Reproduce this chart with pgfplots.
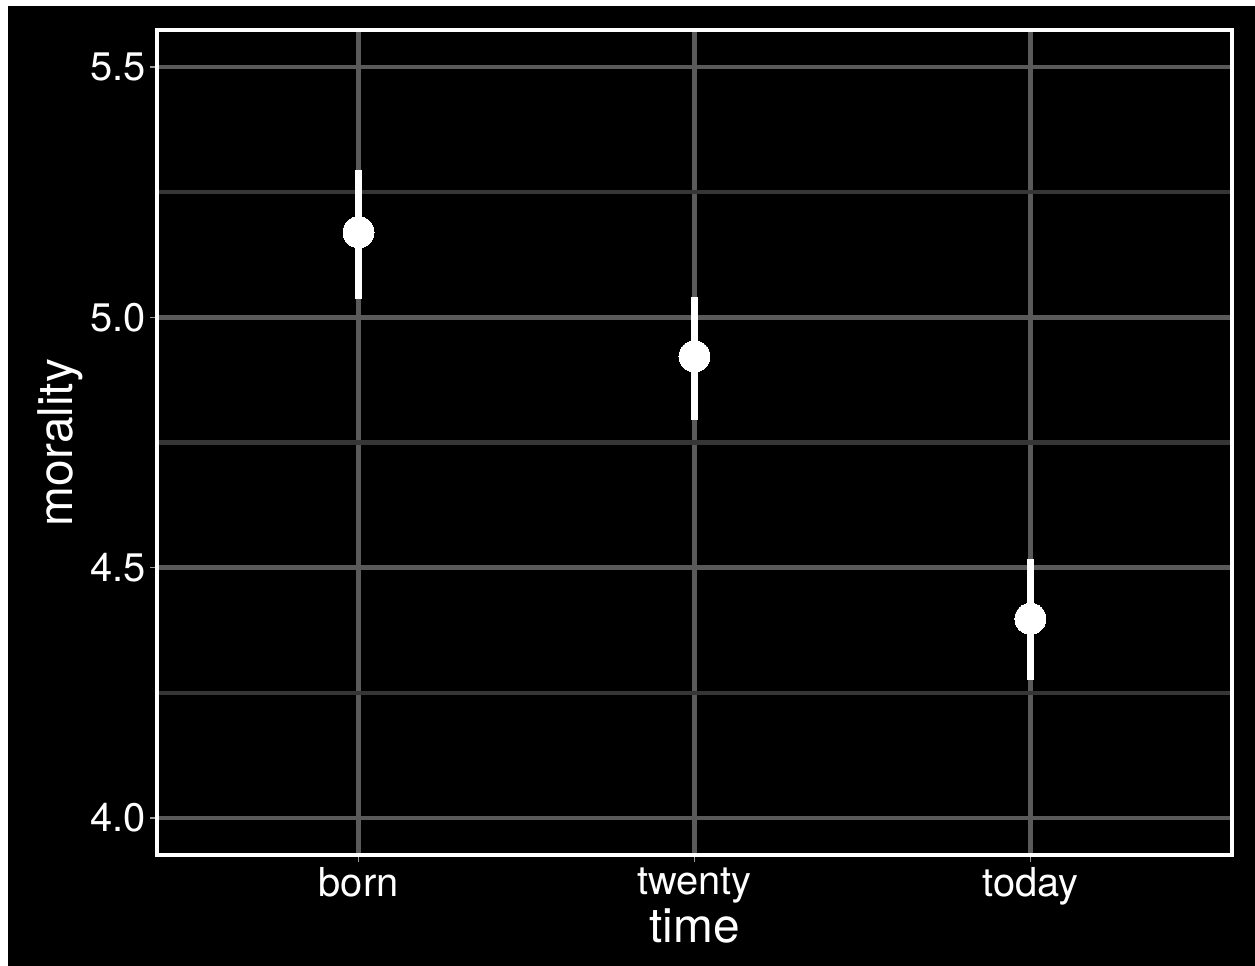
\documentclass[border=0pt]{standalone}
\usepackage{pgfplots}
\pgfplotsset{compat=1.18}
\usepackage{fontspec}
\setmainfont{TeX Gyre Heros}
\definecolor{gridmajor}{HTML}{5A5A5A}
\definecolor{gridminor}{HTML}{363636}
\begin{document}
\begin{tikzpicture}[x=1bp,y=1bp]
% page background with black panel
\useasboundingbox (0,0) rectangle (1255,966);
\fill[white] (0,0) rectangle (1255,966);
\fill[black] (8,0) rectangle (1255,960);
\begin{axis}[
  name=main,
  at={(157bp,111bp)}, anchor=south west,
  width=1075bp, height=825bp, scale only axis,
  xmin=-0.6, xmax=2.6, ymin=3.926, ymax=5.574,
  xtick={0,1,2}, xticklabels={born,twenty,today},
  ytick={4.0,4.5,5.0,5.5},
  minor ytick={4.25,4.75,5.25},
  /pgf/number format/fixed,
  /pgf/number format/fixed zerofill,
  /pgf/number format/precision=1,
  /pgf/number format/assume math mode=true,
  ticklabel style={font=\fontsize{40}{44}\selectfont, text=white},
  yticklabel style={xshift=-1bp},
  xticklabel style={yshift=-2bp},
  axis line style={white, line width=3bp},
  tick style={gridmajor!60!white, line width=1.4bp},
  major tick length=7bp, minor tick length=0pt,
  tick align=outside, xtick pos=bottom, ytick pos=left,
  grid=both,
  major grid style={gridmajor, line width=4.6bp},
  minor grid style={gridminor, line width=4.2bp},
  xlabel={time}, ylabel={morality},
  label style={font=\fontsize{48}{52}\selectfont, text=white},
  xlabel style={at={(axis description cs:0.5,-0.1055)}, anchor=base},
  ylabel style={at={(axis description cs:-0.079,0.5)}, anchor=base},
  clip=false,
]
\addplot[white, line width=6.6bp, mark=*, mark size=15.5bp,
  mark options={fill=white, draw=white, line width=0pt},
  only marks,
  error bars/.cd, y dir=both, y explicit,
  error bar style={white, line width=6.6bp}, error mark=none]
  table[x=x, y=y, y error plus=ep, y error minus=em] {
  x y     ep    em
  0 5.170 0.124 0.133
  1 4.922 0.119 0.127
  2 4.398 0.120 0.122
};
\end{axis}
% panel border
\draw[white, line width=3.2bp] (main.south west) rectangle (main.north east);
\end{tikzpicture}
\end{document}
